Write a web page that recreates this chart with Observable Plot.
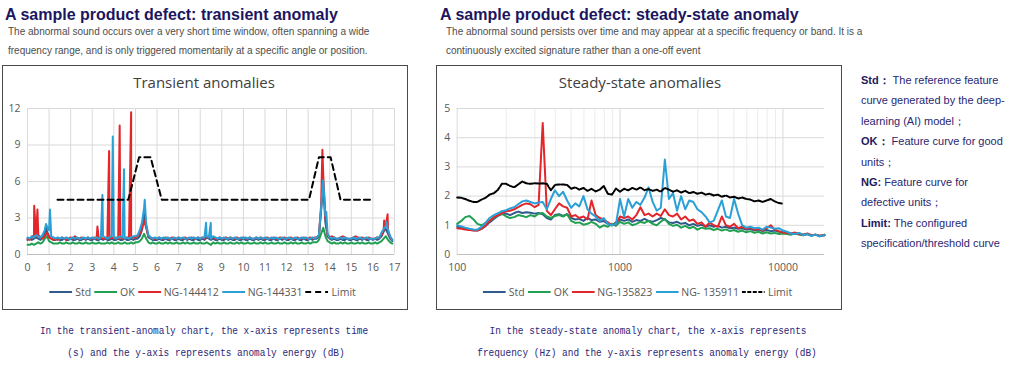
<!DOCTYPE html>
<html><head><meta charset="utf-8">
<script src="https://cdn.jsdelivr.net/npm/d3@7"></script>
<script src="https://cdn.jsdelivr.net/npm/@observablehq/plot@0.6"></script>
<style>
body{margin:0;background:#fff;width:1024px;height:365px;overflow:hidden;position:relative;font-family:"Liberation Sans",Arial,sans-serif;}
.abs{position:absolute;white-space:nowrap;}
.h{font-weight:bold;color:#1c1660;font-size:16px;line-height:16px;}
.sub{color:#4d4d4d;font-size:10px;line-height:19px;}
.box{position:absolute;border:1px solid #4a4a4a;box-sizing:border-box;}
.ct{font-family:"Open Sans";font-size:15px;line-height:16px;color:#404040;transform:translateX(-50%);}
.leg{position:absolute;display:flex;align-items:center;transform:translateX(-50%);font-family:"Open Sans";font-size:10.5px;color:#595959;white-space:nowrap;}
.leg svg{margin-right:3px;}
.leg span{margin-right:3px;}
.note{color:#2a2670;font-size:11px;line-height:20.4px;}
.note b{color:#1e1a5c;}
.cap{font-family:"Liberation Mono",monospace;font-size:11.5px;line-height:12px;color:#2a2878;transform:translateX(-50%) scaleX(0.82);}
</style>
</head><body>
<script>
// ---------- DATA: transient anomalies ----------
const transientNames = ["Std", "OK", "NG-144412", "NG-144331", "Limit"];
const transientColors = ["#2f5b8c", "#22a052", "#e3262b", "#2aa0d6", "#000000"];
const transientT0 = 0, transientDt = 0.1; // sampling of the baseline values below
const transientStd = [
 1.2,1.3,1.2,1.3,1.4,1.3,1.2,1.4,1.7,1.9,
 1.5,1.3,1.2,1.2,1.3,1.2,1.2,1.3,1.2,1.2,
 1.3,1.2,1.2,1.3,1.2,1.2,1.3,1.2,1.3,1.2,
 1.2,1.3,1.2,1.2,1.3,1.2,1.3,1.2,1.2,1.3,
 1.2,1.2,1.3,1.2,1.2,1.3,1.2,1.2,1.3,1.2,
 1.3,1.3,1.5,2.0,3.4,2.3,1.4,1.3,1.2,1.2,
 1.2,1.3,1.2,1.2,1.3,1.2,1.2,1.3,1.2,1.2,
 1.3,1.2,1.2,1.3,1.2,1.3,1.2,1.2,1.3,1.2,
 1.2,1.3,1.2,1.4,1.3,1.2,1.3,1.2,1.2,1.3,
 1.2,1.2,1.3,1.2,1.3,1.2,1.2,1.3,1.2,1.2,
 1.3,1.2,1.2,1.3,1.2,1.2,1.3,1.2,1.3,1.2,
 1.2,1.3,1.2,1.2,1.3,1.2,1.2,1.3,1.2,1.3,
 1.2,1.2,1.3,1.2,1.2,1.3,1.2,1.2,1.3,1.2,
 1.2,1.3,1.2,1.3,1.3,1.5,3.6,5.6,2.6,1.5,
 1.3,1.2,1.3,1.2,1.2,1.3,1.2,1.2,1.3,1.2,
 1.2,1.3,1.2,1.2,1.3,1.2,1.3,1.2,1.2,1.3,
 1.2,1.3,1.2,1.3,1.5,1.9,2.1,1.7,1.3,1.1];
const transientOK = [
 0.8,0.8,0.9,0.8,0.9,1.0,0.9,1.0,1.3,1.5,
 1.1,1.0,0.9,0.9,0.9,1.0,0.9,0.9,1.0,0.9,
 0.9,1.0,0.9,0.9,1.0,0.9,0.9,1.0,0.9,0.9,
 1.0,0.9,0.9,1.0,0.9,0.9,0.9,1.0,0.9,1.0,
 0.9,0.9,1.0,0.9,0.9,1.0,0.9,0.9,1.0,0.9,
 1.0,1.0,1.1,1.3,1.7,1.3,1.0,0.9,1.0,0.9,
 0.9,1.0,0.9,0.9,1.0,0.9,1.0,0.9,0.9,1.0,
 0.9,0.9,1.0,0.9,1.0,0.9,0.9,1.0,0.9,0.9,
 1.0,0.9,0.9,1.0,0.9,0.8,1.0,0.9,1.0,0.9,
 0.9,1.0,0.9,0.9,1.0,0.9,0.9,1.0,0.9,1.0,
 0.9,0.9,1.0,0.9,0.9,1.0,0.9,0.9,1.0,0.9,
 1.0,0.9,0.9,1.0,0.9,0.9,1.0,0.9,0.9,1.0,
 0.9,0.9,1.0,0.9,1.0,0.9,0.9,1.0,0.9,0.9,
 1.0,0.9,1.0,1.0,1.0,1.2,1.7,2.2,1.5,1.1,
 1.0,0.9,1.0,0.9,0.9,1.0,0.9,1.0,0.9,0.9,
 1.0,0.9,0.9,1.0,0.9,1.0,0.9,0.9,1.0,0.9,
 0.9,1.0,0.9,1.0,1.1,1.3,1.5,1.2,1.0,0.9];
const transientNG144412 = [
 1.3,1.2,1.4,1.6,1.5,1.6,1.4,1.3,1.5,1.8,
 1.4,1.3,1.2,1.3,1.2,1.3,1.4,1.3,1.2,1.3,
 1.4,1.3,1.5,1.3,1.3,1.4,1.3,1.3,1.4,1.3,
 1.3,1.4,1.3,1.3,1.4,1.3,1.3,1.4,1.3,1.4,
 1.3,1.4,1.3,1.4,1.3,1.3,1.4,1.3,1.4,1.4,
 1.4,1.5,1.7,2.1,2.8,2.2,1.5,1.4,1.3,1.3,
 1.3,1.4,1.3,1.3,1.4,1.3,1.3,1.4,1.3,1.3,
 1.4,1.3,1.3,1.4,1.3,1.3,1.4,1.3,1.3,1.4,
 1.3,1.4,1.3,1.5,1.4,1.3,1.4,1.3,1.3,1.4,
 1.3,1.3,1.4,1.3,1.4,1.3,1.3,1.4,1.3,1.3,
 1.4,1.3,1.3,1.4,1.3,1.3,1.4,1.3,1.4,1.3,
 1.3,1.4,1.3,1.3,1.4,1.3,1.3,1.4,1.3,1.4,
 1.3,1.3,1.4,1.3,1.3,1.4,1.3,1.3,1.4,1.3,
 1.3,1.4,1.3,1.4,1.4,1.6,4.0,6.5,3.0,1.6,
 1.4,1.5,1.4,1.3,1.3,1.4,1.5,1.4,1.3,1.3,
 1.3,1.4,1.5,1.4,1.3,1.4,1.3,1.3,1.4,1.3,
 1.3,1.3,1.4,1.4,1.6,2.0,2.4,2.0,1.4,1.2];
const transientNG144331 = [
 1.4,1.3,1.5,1.4,1.6,1.5,1.4,1.6,2.0,2.3,
 2.0,1.5,1.4,1.3,1.4,1.3,1.4,1.3,1.4,1.3,
 1.3,1.4,1.3,1.4,1.3,1.3,1.4,1.3,1.4,1.3,
 1.4,1.3,1.4,1.3,1.4,1.5,1.4,1.3,1.4,1.5,
 1.4,1.3,1.4,1.5,1.4,1.3,1.4,1.3,1.4,1.5,
 1.5,1.6,2.0,2.6,3.8,2.5,1.6,1.4,1.3,1.4,
 1.3,1.4,1.3,1.4,1.3,1.4,1.3,1.3,1.4,1.3,
 1.4,1.3,1.4,1.3,1.3,1.4,1.3,1.4,1.3,1.4,
 1.3,1.4,1.4,1.5,1.4,1.3,1.5,1.4,1.3,1.4,
 1.3,1.4,1.3,1.3,1.4,1.3,1.4,1.3,1.3,1.4,
 1.3,1.4,1.3,1.4,1.3,1.3,1.4,1.3,1.4,1.3,
 1.4,1.3,1.3,1.4,1.3,1.4,1.3,1.3,1.4,1.3,
 1.3,1.4,1.3,1.3,1.4,1.3,1.3,1.4,1.3,1.4,
 1.3,1.3,1.4,1.3,1.4,1.6,3.8,6.0,3.2,1.7,
 1.4,1.3,1.4,1.3,1.3,1.4,1.3,1.4,1.3,1.3,
 1.3,1.4,1.3,1.3,1.4,1.3,1.3,1.4,1.3,1.3,
 1.3,1.3,1.4,1.4,1.8,2.1,2.3,2.0,1.5,1.2];
// narrow peaks: [time (s), value]
const transientStdPeaks = [[0.86, 2.4]];
const transientNG144412Peaks = [[0.31,4.0],[0.46,3.7],[3.24,2.3],[3.78,8.5],[4.27,10.6],[4.80,11.7],[13.66,8.6],[16.52,2.8],[16.68,3.3]];
const transientNG144331Peaks = [[0.86,2.5],[1.04,3.7],[3.47,4.9],[3.95,9.7],[4.47,7.0],[5.43,4.5],[8.27,2.6],[8.49,2.6],[13.69,6.1],[13.84,3.5],[16.62,2.7]];
const transientLimitT = [1.39, 4.67, 5.17, 5.70, 6.22, 13.04, 13.50, 14.04, 14.50, 15.90];
const transientLimitV = [4.5, 4.5, 8, 8, 4.5, 4.5, 8, 8, 4.5, 4.5];
const transientXTicks = [0,1,2,3,4,5,6,7,8,9,10,11,12,13,14,15,16,17];
const transientYTicks = [0,3,6,9,12];

// ---------- DATA: steady-state anomalies ----------
const steadyNames = ["Std", "OK", "NG-135823", "NG- 135911", "Limit"];
const steadyColors = ["#2f5b8c", "#22a052", "#e3262b", "#2aa0d6", "#000000"];
const steadyFreq = [100,106,112,119,126,133,141,150,158,168,178,188,200,211,224,237,251,266,282,299,
 316,335,355,376,398,422,447,473,501,531,562,596,631,668,708,750,794,841,891,944,
 1000,1059,1122,1189,1259,1334,1413,1496,1585,1679,1778,1884,1995,2113,2239,2371,2512,2661,2818,2985,
 3162,3350,3548,3758,3981,4217,4467,4732,5012,5309,5623,5957,6310,6683,7079,7499,7943,8414,8913,9441,
 10000,10593,11220,11885,12589,13335,14125,14962,15849,16788,18000];
const steadyLimit = [1.95,1.94,1.90,1.84,1.80,1.80,1.88,1.95,2.05,2.10,2.22,2.42,2.42,2.35,2.30,2.40,2.50,2.44,2.42,2.44,
 2.43,2.44,2.42,2.20,2.38,2.40,2.40,2.38,2.25,2.30,2.22,2.28,2.18,2.25,2.16,2.22,2.35,2.08,2.05,2.26,
 2.15,2.25,2.20,2.28,2.22,2.30,2.20,2.24,2.18,2.22,2.15,2.28,2.22,2.15,2.20,2.12,2.18,2.10,2.14,2.08,
 2.12,2.05,2.08,2.02,2.05,1.98,2.02,1.95,1.98,1.92,1.95,1.90,1.88,1.82,1.85,1.80,1.85,1.90,1.82,1.76,
 1.74];
const steadyStd = [0.95,0.92,0.88,0.85,0.83,0.82,0.88,0.98,1.10,1.22,1.32,1.38,1.40,1.35,1.42,1.47,1.42,1.45,1.43,1.40,
 1.42,1.38,1.25,1.20,1.35,1.38,1.32,1.38,1.25,1.20,1.22,1.15,1.25,1.18,1.20,1.12,1.15,1.05,1.00,1.10,
 1.20,1.15,1.20,1.12,1.18,1.15,1.22,1.15,1.12,1.18,1.25,1.20,1.10,1.08,1.12,1.05,1.08,1.00,1.05,0.98,
 1.02,0.95,1.00,0.95,0.98,0.92,0.95,0.90,0.92,0.88,0.90,0.85,0.88,0.82,0.85,0.80,0.84,0.80,0.82,0.78,
 0.76,0.74,0.72,0.70,0.72,0.68,0.70,0.66,0.68,0.64,0.66];
const steadyOK = [1.05,1.15,1.28,1.32,1.20,1.05,1.00,1.08,1.15,1.25,1.35,1.40,1.30,1.25,1.28,1.35,1.32,1.28,1.35,1.30,
 1.40,1.42,1.30,1.25,1.32,1.35,1.30,1.38,1.15,1.08,1.10,1.02,1.05,1.12,1.05,0.92,1.00,0.95,1.05,0.98,
 1.12,1.05,1.10,1.00,1.05,1.12,1.08,1.15,1.05,1.00,1.12,1.22,1.05,0.98,1.02,0.92,0.98,0.90,0.95,0.85,
 0.92,0.88,0.90,0.84,0.88,0.82,0.86,0.80,0.84,0.78,0.82,0.76,0.80,0.74,0.78,0.72,0.76,0.72,0.74,0.70,
 0.72,0.70,0.68,0.72,0.68,0.66,0.70,0.64,0.68,0.62,0.68];
const steadyNG135823 = [0.90,0.88,0.86,0.84,0.82,0.82,0.88,1.00,1.15,1.28,1.35,1.42,1.48,1.50,1.55,1.62,1.70,1.75,1.72,1.62,
 1.70,4.50,1.50,1.35,1.55,1.75,1.65,1.60,1.30,1.35,1.25,1.30,1.20,1.85,1.35,1.25,1.20,1.10,1.00,1.05,
 1.30,1.25,1.30,1.20,1.35,1.62,1.35,1.40,1.30,1.40,1.32,1.55,1.35,1.30,1.40,1.20,1.30,1.15,1.20,1.05,
 1.10,0.95,1.10,1.00,0.95,1.30,1.00,0.95,1.05,0.90,0.95,0.88,0.92,0.85,0.88,0.82,0.90,1.00,0.85,0.80,
 0.75,0.74,0.72,0.75,0.70,0.68,0.72,0.66,0.68,0.64,0.66];
const steadyNG135911 = [1.00,0.96,0.92,0.88,0.86,0.85,0.95,1.10,1.25,1.35,1.42,1.48,1.52,1.58,1.62,1.72,1.82,1.85,1.80,1.75,
 1.78,1.80,1.55,1.90,2.20,2.00,2.15,1.85,1.60,1.75,1.65,2.00,1.55,1.40,1.30,1.15,1.25,1.05,1.00,1.05,
 1.90,1.30,1.90,1.60,1.80,1.70,1.95,2.30,1.80,1.50,1.60,3.25,1.90,2.10,1.50,2.00,1.55,1.85,1.80,1.55,
 1.45,1.30,1.10,1.15,1.50,1.85,1.30,1.25,1.90,1.40,1.00,0.92,0.95,0.90,0.92,0.85,0.95,0.92,0.88,0.90,
 0.82,0.78,0.72,0.70,0.74,0.66,0.70,0.64,0.68,0.62,0.66];
const steadyXTicks = [100, 1000, 10000];
const steadyYTicks = [0,1,2,3,4,5];
const steadyGridMajor = [100, 1000, 10000];
const steadyGridMinor = [200,300,400,500,600,700,800,900,2000,3000,4000,5000,6000,7000,8000,9000];

// ---------- build ----------
function peakedSeries(base, peaks) {
  const pts = base.map((v, i) => ({t: transientT0 + i * transientDt, v}));
  peaks.forEach(([t, v]) => pts.push({t, v}));
  return pts.sort((a, b) => a.t - b.t);
}
const tSeries = [
  peakedSeries(transientStd, transientStdPeaks),
  peakedSeries(transientOK, []),
  peakedSeries(transientNG144412, transientNG144412Peaks),
  peakedSeries(transientNG144331, transientNG144331Peaks)
];
const tLimit = transientLimitT.map((t, i) => ({t, v: transientLimitV[i]}));

const axisStyle = {fontFamily: '"Open Sans"', fontSize: "10.5px", color: "#595959", background: "transparent", overflow: "visible"};

const leftPlot = Plot.plot({
  width: 410, height: 180,
  marginLeft: 27, marginRight: 16, marginTop: 8, marginBottom: 26,
  x: {domain: [0, 17], ticks: transientXTicks, tickFormat: d => String(d), tickSize: 0, tickPadding: 9, label: null},
  y: {domain: [0, 12], ticks: transientYTicks, tickFormat: d => String(d), tickSize: 0, tickPadding: 7, label: null},
  style: axisStyle,
  marks: [
    Plot.gridX(transientXTicks, {stroke: "#d9d9d9", strokeOpacity: 1}),
    Plot.gridY(transientYTicks.filter(d => d > 0), {stroke: "#d9d9d9", strokeOpacity: 1}),
    Plot.ruleY([0], {stroke: "#bfbfbf"}),
    ...tSeries.map((s, i) => Plot.line(s, {x: "t", y: "v", stroke: transientColors[i], strokeWidth: 2, strokeLinejoin: "round"})),
    Plot.line(tLimit, {x: "t", y: "v", stroke: "#000", strokeWidth: 2, strokeDasharray: "6,4"})
  ]
});

const sSeries = [steadyStd, steadyOK, steadyNG135823, steadyNG135911].map(arr => arr.map((v, i) => ({f: steadyFreq[i], v})));
const sLimit = steadyLimit.map((v, i) => ({f: steadyFreq[i], v}));

const rightPlot = Plot.plot({
  width: 410, height: 180,
  marginLeft: 26.7, marginRight: 16, marginTop: 8, marginBottom: 26,
  x: {type: "log", domain: [100, 18000], ticks: steadyXTicks, tickFormat: d => String(d), tickSize: 0, tickPadding: 9, label: null},
  y: {domain: [0, 5], ticks: steadyYTicks, tickFormat: d => String(d), tickSize: 0, tickPadding: 7, label: null},
  style: axisStyle,
  marks: [
    Plot.gridX(steadyGridMinor, {stroke: "#ececec", strokeOpacity: 1}),
    Plot.gridX(steadyGridMajor, {stroke: "#d9d9d9", strokeOpacity: 1}),
    Plot.gridY(steadyYTicks.filter(d => d > 0), {stroke: "#d9d9d9", strokeOpacity: 1}),
    Plot.ruleY([0], {stroke: "#bfbfbf"}),
    ...sSeries.map((s, i) => Plot.line(s, {x: "f", y: "v", stroke: steadyColors[i], strokeWidth: 2, strokeLinejoin: "round"})),
    Plot.line(sLimit, {x: "f", y: "v", stroke: "#000", strokeWidth: 2, strokeDasharray: "4,1.5"})
  ]
});

function place(el, left, top) {
  el.style.position = "absolute"; el.style.left = left + "px"; el.style.top = top + "px";
  document.body.appendChild(el);
}
function div(cls, html, left, top) {
  const d = document.createElement("div"); d.className = "abs " + cls; d.innerHTML = html;
  place(d, left, top); return d;
}
function legend(names, colors, dashes, cx, cy) {
  const d = document.createElement("div"); d.className = "leg";
  names.forEach((n, i) => {
    const dash = dashes[i] ? `stroke-dasharray="${dashes[i]}"` : "";
    d.insertAdjacentHTML("beforeend", `<svg width="23" height="6"><line x1="0" x2="23" y1="3" y2="3" stroke="${colors[i]}" stroke-width="2" ${dash}/></svg><span>${n}</span>`);
  });
  d.style.left = cx + "px"; d.style.top = (cy - 8) + "px";
  document.body.appendChild(d);
}

// left panel
div("h", "A sample product defect: transient anomaly", 5, 7);
div("sub", "The abnormal sound occurs over a very short time window, often spanning a wide<br>frequency range, and is only triggered momentarily at a specific angle or position.", 8, 22);
const b1 = document.createElement("div"); b1.className = "box";
Object.assign(b1.style, {left: "2px", top: "65px", width: "406px", height: "245px"}); document.body.appendChild(b1);
div("ct", "Transient anomalies", 204, 74);
place(leftPlot, 0, 100);
legend(transientNames, transientColors, [null, null, null, null, "6,4"], 204, 293);

// right panel
div("h", "A sample product defect: steady-state anomaly", 440, 7);
div("sub", "The abnormal sound persists over time and may appear at a specific frequency or band. It is a<br>continuously excited signature rather than a one-off event", 446, 22);
const b2 = document.createElement("div"); b2.className = "box";
Object.assign(b2.style, {left: "436px", top: "65px", width: "406px", height: "245px"}); document.body.appendChild(b2);
div("ct", "Steady-state anomalies", 640, 74);
place(rightPlot, 430, 100);
legend(steadyNames, steadyColors, [null, null, null, null, "4,1.5"], 639, 293);

// notes
div("note", "<b>Std：</b> The reference feature<br>curve generated by the deep-<br>learning (AI) model；<br><b>OK：</b> Feature curve for good<br>units；<br><b>NG:</b> Feature curve for<br>defective units；<br><b>Limit:</b> The configured<br>specification/threshold curve", 861, 70);

// captions
div("cap", "In the transient-anomaly chart, the x-axis represents time", 204, 325);
div("cap", "(s) and the y-axis represents anomaly energy (dB)", 206, 347);
div("cap", "In the steady-state anomaly chart, the x-axis represents", 648, 325);
div("cap", "frequency (Hz) and the y-axis represents anomaly energy (dB)", 647, 347);
</script>
</body></html>
